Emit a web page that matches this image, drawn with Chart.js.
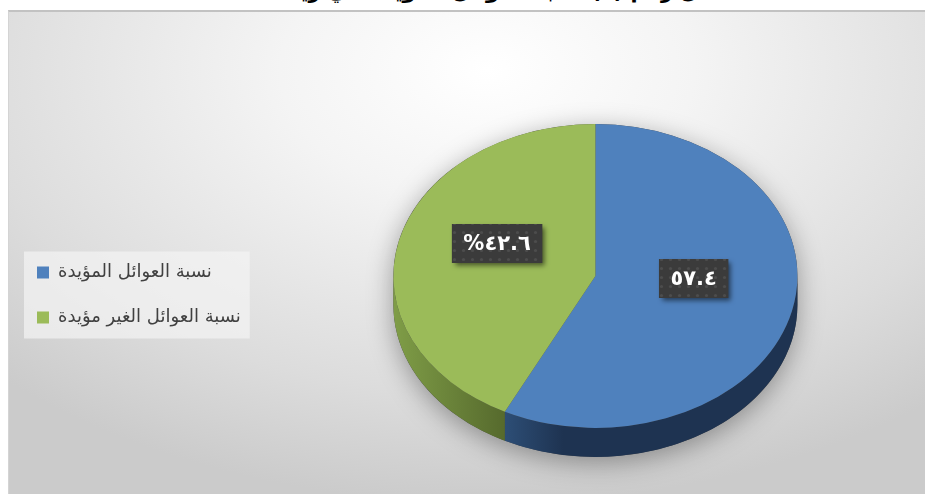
<!DOCTYPE html>
<html lang="ar">
<head>
<meta charset="utf-8">
<title>نسبة العوائل</title>
<script src="https://cdn.jsdelivr.net/npm/chart.js@4.4.1/dist/chart.umd.min.js"></script>
<style>
  html, body { margin: 0; padding: 0; width: 925px; height: 495px; overflow: hidden; background: #fff; }
  #title { position: absolute; left: -12px; width: 925px; top: -21px; text-align: center; font: bold 21px 'DejaVu Sans'; line-height: 24px; color: #000; direction: rtl; white-space: nowrap; }
  #frame { position: absolute; left: 8px; top: 10px; width: 920px; height: 482px; border-top: 2px solid #c2c2c2; border-left: 1px solid #d4d4d4; overflow: hidden;
    background: radial-gradient(ellipse 75% 90% at 52% 12%, #ffffff 0%, #f4f4f4 30%, #dcdcdc 75%, #cbcbcb 100%); }
  #chart { position: absolute; left: 0; top: 0; }
</style>
</head>
<body>
<div id="title">شكل رقم (٥) نسبة العوائل المؤيدة في ريف المحافظة</div>
<div id="frame"><canvas id="chart" width="931" height="490"></canvas></div>
<script>
const categories = ['نسبة العوائل المؤيدة', 'نسبة العوائل الغير مؤيدة'];
const shares = [57.4, 42.6];
const shareSuffix = ['', '%'];
const topColors = ['#4f81bd', '#9bbb59'];
const sideColors = [['#2d4e76', '#1e3351'], ['#7f9d47', '#566a2d']];

const SQUASH = 0.752;   // how flat the tilted pie looks
const DEPTH = 29;       // thickness of the pie wall
const CENTER_Y = 264;   // canvas y of the top face centre
const LABEL_LIFT = -15;

function arabicDigits(v) {
  return String(v).replace(/[0-9]/g, d => '٠١٢٣٤٥٦٧٨٩'[d]);
}

// flat circle point -> tilted ellipse point
function tilt(arc, x, y) {
  return { x: x, y: CENTER_Y + (y - arc.y) * SQUASH };
}

function dotPattern(ctx) {
  const c = document.createElement('canvas');
  c.width = 9; c.height = 9;
  const p = c.getContext('2d');
  p.fillStyle = 'rgba(255,255,255,0.09)';
  p.beginPath();
  p.arc(4.5, 4.5, 1.6, 0, Math.PI * 2);
  p.fill();
  return ctx.createPattern(c, 'repeat');
}

const pie3d = {
  id: 'pie3d',
  beforeDraw(chart) {
    // grey panel behind the legend
    const boxes = chart.legend && chart.legend.legendHitBoxes;
    if (!boxes || !boxes.length) return;
    let l = Infinity, t = Infinity, r = -Infinity, b = -Infinity;
    boxes.forEach(h => {
      l = Math.min(l, h.left); t = Math.min(t, h.top);
      r = Math.max(r, h.left + h.width); b = Math.max(b, h.top + h.height);
    });
    const ctx = chart.ctx;
    ctx.save();
    ctx.fillStyle = 'rgba(244,244,244,0.7)';
    ctx.fillRect(l - 13, t - 12, r - l + 22, b - t + 24);
    ctx.restore();
  },
  beforeDatasetsDraw(chart) {
    const ctx = chart.ctx;
    const arcs = chart.getDatasetMeta(0).data;
    if (!arcs.length) return;
    const a0 = arcs[0];
    const cx = a0.x, rx = a0.outerRadius, ry = rx * SQUASH;

    // shadow under the whole pie
    ctx.save();
    ctx.shadowColor = 'rgba(0,0,0,0.35)';
    ctx.shadowBlur = 26;
    ctx.shadowOffsetY = 6;
    ctx.fillStyle = '#444';
    ctx.beginPath();
    ctx.ellipse(cx, CENTER_Y, rx, ry, 0, Math.PI, Math.PI * 2);
    ctx.ellipse(cx, CENTER_Y + DEPTH, rx, ry, 0, 0, Math.PI);
    ctx.closePath();
    ctx.fill();
    ctx.restore();

    // front walls
    arcs.forEach((arc, i) => {
      [-2 * Math.PI, 0, 2 * Math.PI].forEach(shift => {
        const s = Math.max(arc.startAngle + shift, 0);
        const e = Math.min(arc.endAngle + shift, Math.PI);
        if (e <= s) return;
        const x1 = cx + rx * Math.cos(e), x2 = cx + rx * Math.cos(s);
        const g = ctx.createLinearGradient(x1, 0, x2, 0);
        g.addColorStop(0, sideColors[i][0]);
        g.addColorStop(i === 0 ? 0.2 : 1, sideColors[i][1]);
        g.addColorStop(1, sideColors[i][1]);
        ctx.fillStyle = g;
        ctx.beginPath();
        ctx.ellipse(cx, CENTER_Y, rx, ry, 0, s, e);
        ctx.ellipse(cx, CENTER_Y + DEPTH, rx, ry, 0, e, s, true);
        ctx.closePath();
        ctx.fill();
      });
    });

    // squash the flat pie into the top face
    ctx.save();
    ctx.translate(0, CENTER_Y);
    ctx.scale(1, SQUASH);
    ctx.translate(0, -a0.y);
  },
  afterDatasetsDraw(chart) {
    const ctx = chart.ctx;
    ctx.restore();
    const arcs = chart.getDatasetMeta(0).data;
    const pattern = dotPattern(ctx);
    arcs.forEach((arc, i) => {
      const mid = (arc.startAngle + arc.endAngle) / 2;
      const r = arc.outerRadius * 0.5;
      const p = tilt(arc, arc.x + Math.cos(mid) * r, arc.y + Math.sin(mid) * r);
      const text = shareSuffix[i] + arabicDigits(shares[i]);
      ctx.save();
      ctx.font = 'bold 21px "DejaVu Sans"';
      ctx.direction = 'ltr';
      const w = ctx.measureText(text).width + 23;
      const h = 39;
      const bx = p.x - w / 2, by = p.y + LABEL_LIFT - h / 2;
      ctx.shadowColor = 'rgba(0,0,0,0.55)';
      ctx.shadowBlur = 5;
      ctx.shadowOffsetX = 3;
      ctx.shadowOffsetY = 3;
      ctx.fillStyle = '#3b3b3b';
      ctx.fillRect(bx, by, w, h);
      ctx.shadowColor = 'transparent';
      ctx.fillStyle = pattern;
      ctx.fillRect(bx, by, w, h);
      ctx.fillStyle = '#ffffff';
      ctx.textAlign = 'center';
      ctx.textBaseline = 'middle';
      ctx.fillText(text, p.x, p.y + LABEL_LIFT + 1);
      ctx.restore();
    });
  }
};

new Chart(document.getElementById('chart'), {
  type: 'pie',
  data: {
    labels: categories,
    datasets: [{
      data: shares,
      backgroundColor: topColors,
      borderWidth: 0,
      clip: false
    }]
  },
  options: {
    responsive: false,
    animation: false,
    events: [],
    layout: { padding: { top: 81, bottom: 5, left: 1, right: 0 } },
    plugins: {
      tooltip: { enabled: false },
      legend: {
        position: 'left',
        labels: {
          boxWidth: 12,
          boxHeight: 12,
          padding: 27,
          color: '#404040',
          font: { family: 'DejaVu Sans', size: 18 }
        }
      }
    }
  },
  plugins: [pie3d]
});
</script>
</body>
</html>
